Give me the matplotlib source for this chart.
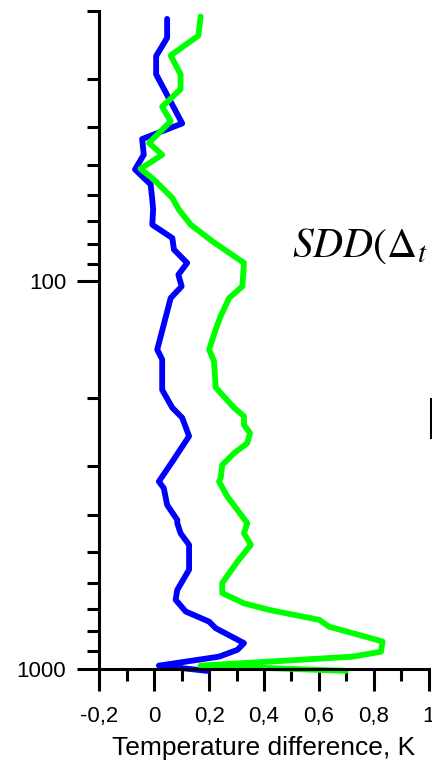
import numpy as np
import matplotlib
matplotlib.use("Agg")
import matplotlib.pyplot as plt
from matplotlib.ticker import FixedLocator, FixedFormatter, NullFormatter
from matplotlib.lines import Line2D

plt.rcParams['font.family'] = ['Liberation Sans', 'DejaVu Sans']
plt.rcParams['mathtext.fontset'] = 'stix'

# pressure levels (hPa) and temperature differences (K)
blue_p = [21, 23.5, 26.2, 29.2, 39.1, 42.9, 47.1, 51.4, 56.2, 61.5, 65.3, 71.4,
          77.3, 82.8, 89.6, 96.1, 103, 110.4, 150, 159, 190.6, 212, 225, 251,
          292, 328.6, 342, 377.6, 413, 421, 447, 479, 555, 626, 664, 712, 756,
          786, 859, 894, 931, 982, 1013]
blue_dt = [0.047, 0.047, 0.007, 0.007, 0.102, -0.044, -0.038, -0.070, -0.013,
           -0.007, -0.004, -0.007, 0.066, 0.072, 0.12, 0.088, 0.1, 0.06, 0.011,
           0.029, 0.029, 0.066, 0.102, 0.127, 0.066, 0.017, 0.035, 0.047, 0.084,
           0.084, 0.096, 0.127, 0.127, 0.084, 0.078, 0.115, 0.2, 0.224, 0.327,
           0.303, 0.236, 0.017, 0.193]

green_p = [20.7, 23.2, 26.1, 29.2, 31.9, 35.4, 38.6, 43.9, 47.1, 51.2, 54.6,
           60.9, 65.3, 71.4, 78.8, 89.6, 103, 110.4, 123, 133, 150, 161, 188,
           212, 223, 234.6, 246.4, 261.6, 277.6, 297.7, 322, 328.6, 359, 421,
           447, 479, 529, 567, 601, 638, 678, 705, 748, 779, 818, 851, 904, 931,
           982, 1013]
green_dt = [0.169, 0.161, 0.06, 0.096, 0.096, 0.029, 0.06, -0.019, 0.029, -0.05,
            -0.001, 0.066, 0.09, 0.133, 0.212, 0.327, 0.321, 0.273, 0.242, 0.224,
            0.2, 0.218, 0.224, 0.291, 0.327, 0.327, 0.349, 0.339, 0.291, 0.248,
            0.242, 0.236, 0.266, 0.339, 0.327, 0.352, 0.303, 0.273, 0.248, 0.248,
            0.327, 0.419, 0.601, 0.637, 0.746, 0.832, 0.826, 0.723, 0.169, 0.698]

x_ticks = [-0.2, 0, 0.2, 0.4, 0.6, 0.8, 1.0]
x_labels = ["-0,2", "0", "0,2", "0,4", "0,6", "0,8", "1"]
x_minor = [-0.1, 0.1, 0.3, 0.5, 0.7, 0.9]
y_ticks = [100, 1000]
y_labels = ["100", "1000"]
y_minor = [20, 30, 40, 50, 60, 70, 80, 90, 200, 300, 400, 500, 600, 700, 800, 900]

fig = plt.figure(figsize=(4.32, 7.63), dpi=100)
ax = fig.add_axes([0.2299, 0.1236, 0.7625, 0.8624])

ax.plot(blue_dt, blue_p, color='#0000ff', lw=4.2, clip_on=False,
        solid_capstyle='round', solid_joinstyle='round')
ax.plot(green_dt, green_p, color='#00ff00', lw=4.2, clip_on=False,
        solid_capstyle='round', solid_joinstyle='round')

ax.set_yscale('log')
ax.set_ylim(1000, 20)
ax.set_xlim(-0.2, 1.0)

ax.yaxis.set_major_locator(FixedLocator(y_ticks))
ax.yaxis.set_major_formatter(FixedFormatter(y_labels))
ax.yaxis.set_minor_locator(FixedLocator(y_minor))
ax.yaxis.set_minor_formatter(NullFormatter())
ax.xaxis.set_major_locator(FixedLocator(x_ticks))
ax.xaxis.set_major_formatter(FixedFormatter(x_labels))
ax.xaxis.set_minor_locator(FixedLocator(x_minor))

for s in ['top', 'right']:
    ax.spines[s].set_visible(False)
for s in ['left', 'bottom']:
    ax.spines[s].set_linewidth(2.2)

ax.tick_params(which='major', direction='out', length=15.8, width=2.2,
               labelsize=16, color='black')
ax.tick_params(which='minor', direction='out', length=8.6, width=2.2)
ax.tick_params(axis='x', which='major', pad=11)
ax.tick_params(axis='y', which='major', pad=8)

ax.set_xlabel("Temperature difference, K", fontsize=19)
ax.xaxis.label.set_va('center')
ax.xaxis.set_label_coords(0.5, -0.1205)

# pieces of the annotation that are cut off at the right edge
fig.text(292 / 432, 1 - 257 / 763, r'$SDD\left(\Delta_t\right.$', fontsize=30,
         ha='left', va='baseline')
fig.add_artist(Line2D([430.5 / 432, 430.5 / 432], [1 - 399 / 763, 1 - 437 / 763],
                      color='black', lw=2.2))

fig.savefig("out.png", dpi=100)
